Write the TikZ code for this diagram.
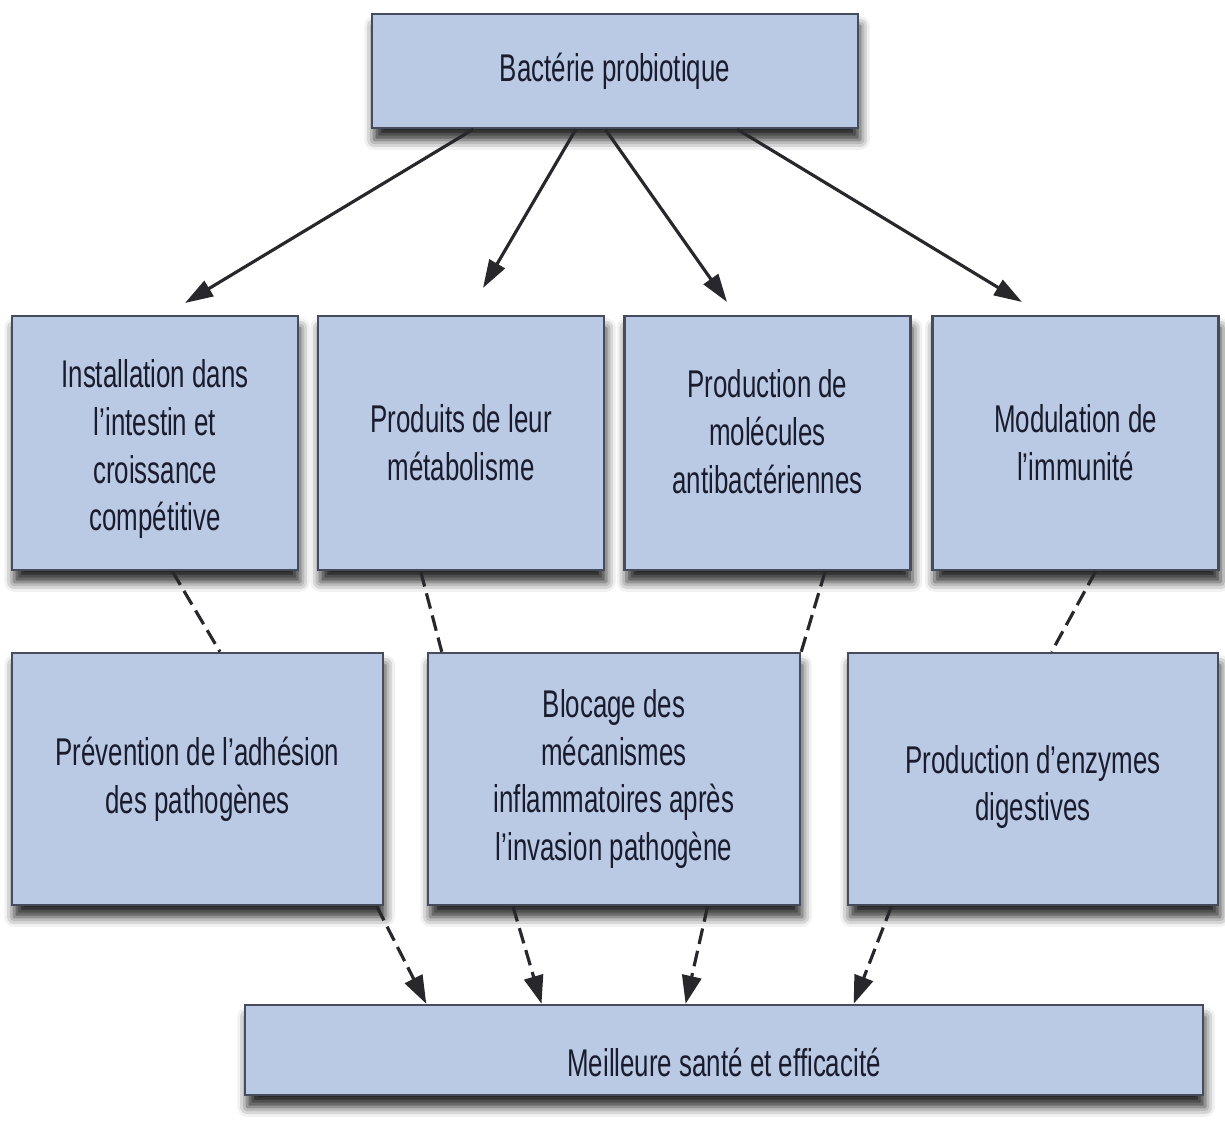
\documentclass[tikz,border=0pt]{standalone}
\usepackage{fontspec}
\setmainfont[FakeStretch=0.67]{Liberation Sans}
\usepackage{tikz}
\usepackage{xcolor}
\usetikzlibrary{arrows.meta,calc,shadows.blur}
\definecolor{boxblue}{RGB}{186,201,228}
\definecolor{boxline}{RGB}{70,76,92}
\definecolor{txt}{RGB}{26,28,46}
\definecolor{lien}{RGB}{40,40,44}

\begin{document}
\begin{tikzpicture}[every node/.style={rectangle, draw=boxline, line width=0.7pt, fill=boxblue, text=txt, align=center, inner sep=0pt,
        font=\fontsize{11}{13.6}\selectfont,
        blur shadow={shadow xshift=0.6pt, shadow yshift=-3.4pt, shadow blur radius=2.8pt, shadow opacity=85}},
    fleche/.style={draw=lien, line width=0.9pt, -{Triangle[length=8pt,width=5pt]}},
    tiret/.style={draw=lien, line width=0.9pt, dash pattern=on 4.5pt off 2pt},
    tiretfleche/.style={tiret, -{Triangle[length=8pt,width=5.5pt]}}]
                \useasboundingbox (0,0) rectangle (12.25,11.26);

                \node[minimum width=4.86cm, minimum height=1.14cm] (P) at (6.15,10.55) {Bactérie probiotique};

                \node[minimum width=2.86cm, minimum height=2.54cm] (A) at (1.55,6.83) {\rule{0pt}{11.5pt}Installation dans\\l'intestin et\\croissance\\compétitive};
                \node[minimum width=2.86cm, minimum height=2.54cm] (B) at (4.61,6.83) {Produits de leur\\métabolisme};
                \node[minimum width=2.86cm, minimum height=2.54cm] (C) at (7.675,6.83) {Production de\\molécules\\antibactériennes\rule[-6.5pt]{0pt}{0pt}};
                \node[minimum width=2.86cm, minimum height=2.54cm] (D) at (10.755,6.83) {Modulation de\\l'immunité};

                \node[minimum width=3.71cm, minimum height=2.52cm] (E) at (1.975,3.47) {Prévention de l'adhésion\\des pathogènes};
                \node[minimum width=3.72cm, minimum height=2.52cm] (F) at (6.14,3.47) {Blocage des\\mécanismes\\inflammatoires après\\l'invasion pathogène};
                \node[minimum width=3.70cm, minimum height=2.52cm] (G) at (10.33,3.47) {\rule{0pt}{12.5pt}Production d'enzymes\\digestives};

                \node[minimum width=9.58cm, minimum height=0.90cm] (S) at (7.24,0.76) {\rule{0pt}{15pt}Meilleure santé et efficacité};

                \coordinate (a1) at (1.85,8.23);
                \coordinate (a2) at (4.83,8.38);
                \coordinate (a3) at (7.27,8.24);
                \coordinate (a4) at (10.22,8.24);

                \draw[fleche] ($(P.south west)!0.21!(P.south east)$) -- (a1);
                \draw[fleche] ($(P.south west)!0.42!(P.south east)$) -- (a2);
                \draw[fleche] ($(P.south west)!0.48!(P.south east)$) -- (a3);
                \draw[fleche] ($(P.south west)!0.75!(P.south east)$) -- (a4);

                \draw[tiret] ($(A.south west)!0.56!(A.south east)$) -- ($(E.north west)!0.56!(E.north east)$);
                \draw[tiret] ($(B.south west)!0.36!(B.south east)$) -- ($(F.north west)!0.04!(F.north east)$);
                \draw[tiret] ($(C.south west)!0.70!(C.south east)$) -- (F.north east);
                \draw[tiret] ($(D.south west)!0.57!(D.south east)$) -- ($(G.north west)!0.55!(G.north east)$);

                \draw[tiretfleche] ($(E.south west)!0.98!(E.south east)$) -- ($(S.north west)!0.19!(S.north east)$);
                \draw[tiretfleche] ($(F.south west)!0.23!(F.south east)$) -- ($(S.north west)!0.31!(S.north east)$);
                \draw[tiretfleche] ($(F.south west)!0.75!(F.south east)$) -- ($(S.north west)!0.46!(S.north east)$);
                \draw[tiretfleche] ($(G.south west)!0.12!(G.south east)$) -- ($(S.north west)!0.635!(S.north east)$);
            \end{tikzpicture}
\end{document}
